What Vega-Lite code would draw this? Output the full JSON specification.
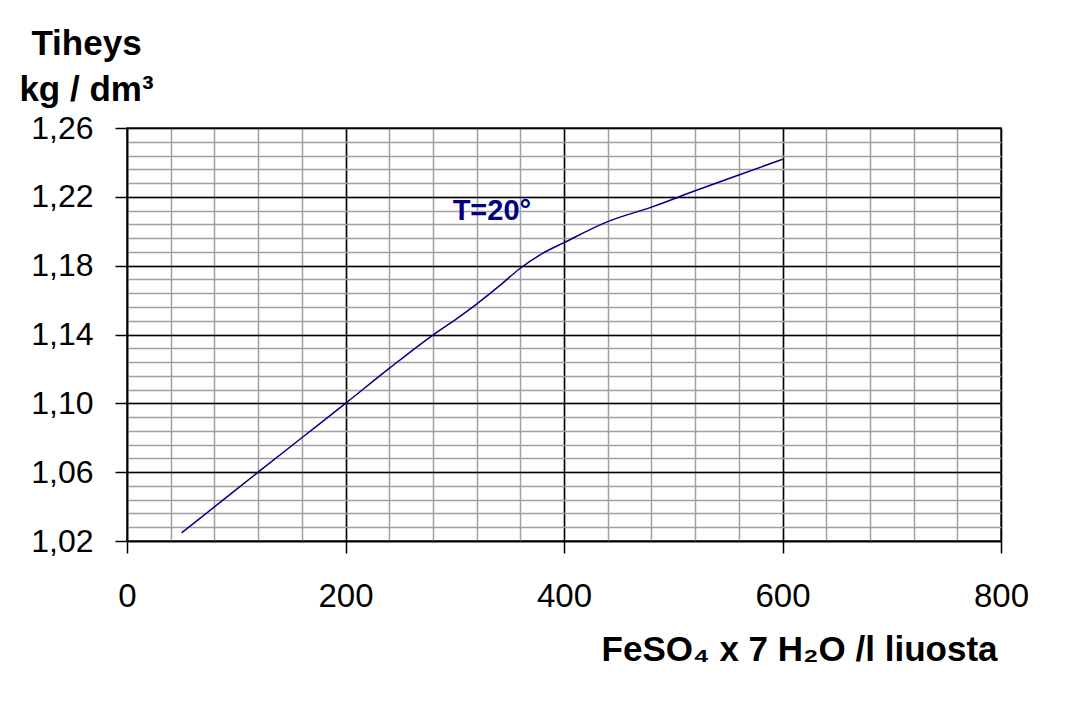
{
  "$schema": "https://vega.github.io/schema/vega-lite/v6.json",
  "width": 874,
  "height": 413,
  "autosize": {"type": "none"},
  "padding": {"left": 127, "top": 128, "right": 83, "bottom": 166},
  "background": "white",
  "config": {
    "font": "Liberation Sans",
    "view": {"stroke": "black", "strokeWidth": 1.5}
  },
  "datasets": {
    "curve": [
      {"c": 50, "d": 1.0248},
      {"c": 80, "d": 1.0398},
      {"c": 120, "d": 1.0600},
      {"c": 160, "d": 1.0800},
      {"c": 200, "d": 1.1000},
      {"c": 240, "d": 1.1203},
      {"c": 280, "d": 1.1397},
      {"c": 300, "d": 1.1484},
      {"c": 320, "d": 1.1577},
      {"c": 340, "d": 1.1678},
      {"c": 360, "d": 1.1785},
      {"c": 380, "d": 1.1870},
      {"c": 400, "d": 1.1934},
      {"c": 440, "d": 1.2056},
      {"c": 480, "d": 1.2140},
      {"c": 520, "d": 1.2235},
      {"c": 560, "d": 1.2327},
      {"c": 600, "d": 1.2418}
    ],
    "note": [
      {"c": 334, "d": 1.2118, "label": "T=20°"}
    ]
  },
  "layer": [
    {
      "data": {"name": "curve"},
      "mark": {"type": "line", "color": "#000080", "strokeWidth": 1.5, "interpolate": "monotone"},
      "encoding": {
        "x": {
          "field": "c", "type": "quantitative",
          "scale": {"domain": [0, 800], "nice": false, "zero": false},
          "axis": {
            "orient": "bottom",
            "values": [0,40,80,120,160,200,240,280,320,360,400,440,480,520,560,600,640,680,720,760,800],
            "grid": true, "gridColor": "#a0a0a0", "gridWidth": 1.5,
            "labels": false, "ticks": false, "domain": false, "title": null
          }
        },
        "y": {
          "field": "d", "type": "quantitative",
          "scale": {"domain": [1.02, 1.26], "nice": false, "zero": false},
          "axis": {
            "orient": "left",
            "values": [1.02,1.028,1.036,1.044,1.052,1.06,1.068,1.076,1.084,1.092,1.1,1.108,1.116,1.124,1.132,1.14,1.148,1.156,1.164,1.172,1.18,1.188,1.196,1.204,1.212,1.22,1.228,1.236,1.244,1.252,1.26],
            "grid": true, "gridColor": "#a0a0a0", "gridWidth": 1.5,
            "labels": false, "ticks": false, "domain": false, "title": null
          }
        }
      }
    },
    {
      "data": {"name": "note"},
      "mark": {"type": "text", "color": "#000080", "fontWeight": "bold", "fontSize": 29, "align": "center", "baseline": "middle"},
      "encoding": {
        "text": {"field": "label"},
        "x": {
          "field": "c", "type": "quantitative",
          "axis": {
            "orient": "bottom",
            "values": [0, 200, 400, 600, 800],
            "grid": true, "gridColor": "black", "gridWidth": 1.5,
            "domain": true, "domainColor": "black", "domainWidth": 1.5,
            "ticks": true, "tickColor": "black", "tickSize": 12, "tickWidth": 1.5,
            "labelFontSize": 33, "labelColor": "black", "labelPadding": 27,
            "labelFlush": false, "labelOverlap": false,
            "title": "FeSO₄ x 7 H₂O /l liuosta",
            "titleFontSize": 35, "titleFontWeight": "bold", "titleColor": "black",
            "titleAnchor": "end", "titleAlign": "right", "titleBaseline": "alphabetic",
            "titleX": 870, "titleY": 119
          }
        },
        "y": {
          "field": "d", "type": "quantitative",
          "axis": {
            "orient": "left",
            "values": [1.02, 1.06, 1.10, 1.14, 1.18, 1.22, 1.26],
            "labelExpr": "replace(format(datum.value, '.2f'), '.', ',')",
            "grid": true, "gridColor": "black", "gridWidth": 1.5,
            "domain": true, "domainColor": "black", "domainWidth": 1.5,
            "ticks": true, "tickColor": "black", "tickSize": 12, "tickWidth": 1.5,
            "labelFontSize": 32, "labelColor": "black", "labelPadding": 22,
            "labelFlush": false, "labelOverlap": false,
            "title": ["Tiheys", "kg / dm³"],
            "titleFontSize": 35, "titleFontWeight": "bold", "titleColor": "black",
            "titleAngle": 0, "titleAlign": "center", "titleBaseline": "alphabetic",
            "titleLineHeight": 46,
            "titleX": -41, "titleY": -74
          }
        }
      }
    }
  ],
  "resolve": {"axis": {"x": "independent", "y": "independent"}}
}
